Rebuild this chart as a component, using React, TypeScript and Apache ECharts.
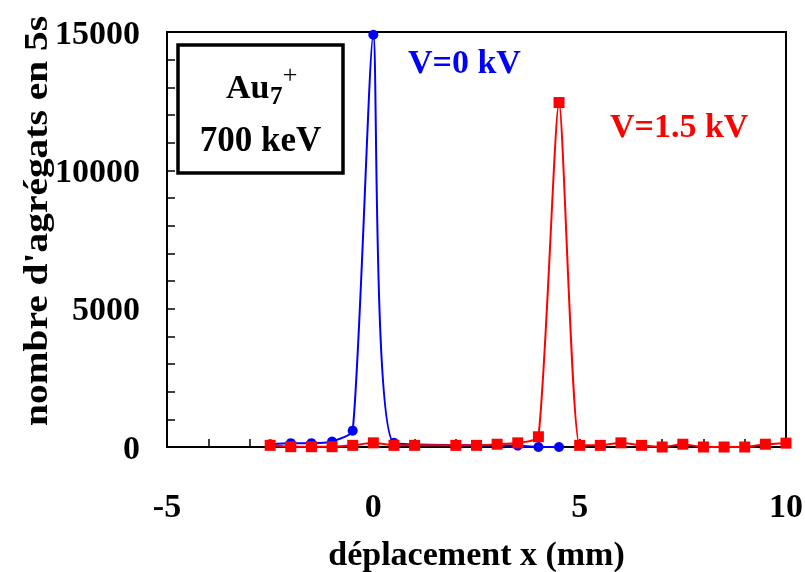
import React, { useEffect, useRef } from "react";
import * as echarts from "echarts";

const blueX = [-2.5, -2, -1.5, -1, -0.5, 0, 0.5, 3.5, 4, 4.5];
const blueY = [100, 140, 140, 200, 590, 14900, 150, 50, 0, 0];

const redX = [-2.5, -2, -1.5, -1, -0.5, 0, 0.5, 1, 2, 2.5, 3, 3.5, 4, 4.5, 5, 5.5, 6, 6.5, 7, 7.5, 8, 8.5, 9, 9.5, 10];
const redY = [60, 10, 10, 10, 60, 150, 60, 60, 60, 60, 100, 150, 370, 12450, 60, 60, 150, 60, 0, 100, 0, 0, 0, 100, 140];

const xTitle = "déplacement x (mm)";
const yTitle = "nombre d'agrégats en 5s";
const blueLabel = "V=0 kV";
const redLabel = "V=1.5 kV";

const FONT = "'Liberation Serif', 'Times New Roman', serif";

export default function App() {
  const ref = useRef<HTMLDivElement>(null);
  useEffect(() => {
    const chart = echarts.init(ref.current!, null, { renderer: "svg" });
    const axisLineStyle = { color: "#000", width: 2 };
    const tickStyle = { color: "#000", width: 1.5 };
    const labelStyle = { fontSize: 34, fontWeight: "bold" as const, color: "#000", fontFamily: FONT };
    chart.setOption({
      animation: false,
      textStyle: { fontFamily: FONT },
      grid: {
        left: 167,
        right: 19,
        top: 32,
        bottom: 125,
        show: true,
        borderColor: "#000",
        borderWidth: 2,
        containLabel: false,
        outerBoundsMode: "none",
      },
      xAxis: {
        type: "value",
        min: -5,
        max: 10,
        interval: 5,
        axisLine: { onZero: false, lineStyle: axisLineStyle },
        axisTick: { inside: true, length: 8, lineStyle: tickStyle },
        minorTick: { show: true, splitNumber: 5, length: 8, lineStyle: tickStyle },
        splitLine: { show: false },
        axisLabel: { ...labelStyle, margin: 41 },
        name: xTitle,
        nameLocation: "middle",
        nameGap: 89,
        nameTextStyle: { ...labelStyle },
      },
      yAxis: {
        type: "value",
        min: 0,
        max: 15000,
        interval: 5000,
        axisLine: { show: true, onZero: false, lineStyle: axisLineStyle },
        axisTick: { show: true, inside: true, length: 8, lineStyle: tickStyle },
        minorTick: { show: true, splitNumber: 5, length: 8, lineStyle: tickStyle },
        splitLine: { show: false },
        axisLabel: { ...labelStyle, margin: 27, formatter: (v: number) => String(v) },
      },
      series: [
        {
          type: "line",
          data: blueX.map((x, i) => [x, blueY[i]]),
          smooth: 0.2,
          symbol: "circle",
          symbolSize: 10,
          itemStyle: { color: "#0000ff" },
          lineStyle: { color: "#0000ff", width: 2 },
          z: 2,
        },
        {
          type: "line",
          data: redX.map((x, i) => [x, redY[i]]),
          smooth: 0.2,
          symbol: "rect",
          symbolSize: 11,
          itemStyle: { color: "#ff0000" },
          lineStyle: { color: "#ff0000", width: 2 },
          z: 3,
        },
      ],
      graphic: [
        {
          type: "text",
          x: 35,
          y: 221,
          rotation: Math.PI / 2,
          scaleX: 1.16,
          style: { text: yTitle, fontSize: 34, fontWeight: "bold", fontFamily: FONT, fill: "#000", textAlign: "center", textVerticalAlign: "middle" },
        },
        {
          type: "rect",
          shape: { x: 178, y: 45, width: 165, height: 128 },
          style: { fill: "#fff", stroke: "#000", lineWidth: 3.5 },
          z: 10,
        },
        {
          type: "text",
          x: 226,
          y: 86,
          style: { text: "Au", fontSize: 34, fontWeight: "bold", fontFamily: FONT, fill: "#000", textAlign: "left", textVerticalAlign: "middle" },
          z: 11,
        },
        {
          type: "text",
          x: 270,
          y: 95,
          style: { text: "7", fontSize: 25, fontWeight: "bold", fontFamily: FONT, fill: "#000", textAlign: "left", textVerticalAlign: "middle" },
          z: 11,
        },
        {
          type: "text",
          x: 290,
          y: 74,
          style: { text: "+", fontSize: 26, fontWeight: "normal", fontFamily: FONT, fill: "#000", textAlign: "center", textVerticalAlign: "middle" },
          z: 11,
        },
        {
          type: "text",
          x: 260.5,
          y: 139,
          style: { text: "700 keV", fontSize: 35, fontWeight: "bold", fontFamily: FONT, fill: "#000", textAlign: "center", textVerticalAlign: "middle" },
          z: 11,
        },
        {
          type: "text",
          x: 408,
          y: 61,
          style: { text: blueLabel, fontSize: 34, fontWeight: "bold", fontFamily: FONT, fill: "#0000ff", textAlign: "left", textVerticalAlign: "middle" },
          z: 11,
        },
        {
          type: "text",
          x: 610,
          y: 125,
          style: { text: redLabel, fontSize: 34, fontWeight: "bold", fontFamily: FONT, fill: "#ff0000", textAlign: "left", textVerticalAlign: "middle" },
          z: 11,
        },
      ],
    });
    return () => chart.dispose();
  }, []);
  return <div ref={ref} style={{ position: "fixed", left: 0, top: 0, width: 805, height: 572 }} />;
}
